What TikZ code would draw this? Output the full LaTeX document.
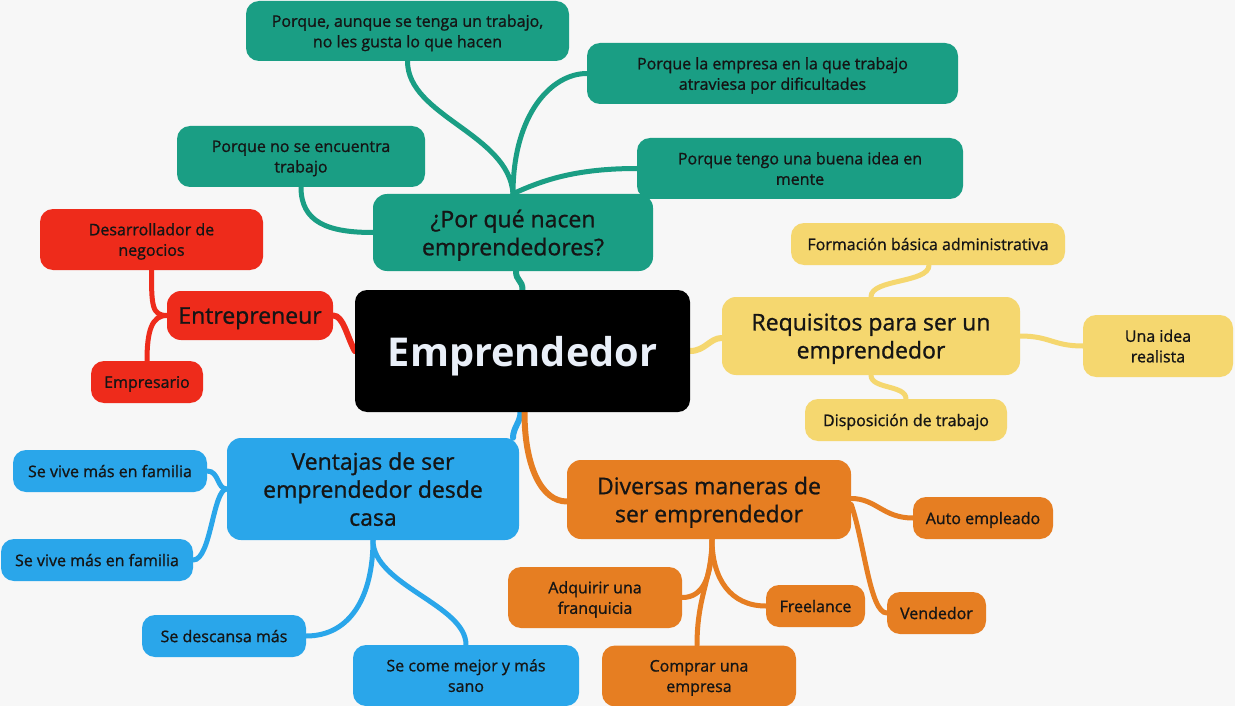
\documentclass[tikz,border=0pt]{standalone}
\usepackage{fontspec}
\setmainfont{Open Sans}
\newfontfamily\semi[FakeBold=1]{Open Sans}
\usetikzlibrary{backgrounds}
\definecolor{cfond}{HTML}{F7F7F7}
\definecolor{cvert}{HTML}{1A9E84}
\definecolor{crouge}{HTML}{EE2B1B}
\definecolor{cjaune}{HTML}{F5D76F}
\definecolor{cbleu}{HTML}{2AA6EA}
\definecolor{corange}{HTML}{E67E22}
\definecolor{ctexte}{HTML}{151515}
\definecolor{cclair}{HTML}{E9EFF8}
\tikzset{
  boite/.style={rounded corners=13pt, align=center, inner sep=0pt, text depth=0pt, text=ctexte},
  feuille/.style={boite, font=\semi\fontsize{16}{20.5}\selectfont},
  branche/.style={boite, rounded corners=14pt, font=\semi\fontsize{23}{28}\selectfont},
  lien/.style={line width=5pt, line cap=round},
  gros lien/.style={line width=6pt, line cap=round}
}

\begin{document}
\begin{tikzpicture}[x=1pt,y=-1pt]
            \useasboundingbox (0,0) rectangle (1235,706);
            \node[fill=black, rounded corners=12pt, minimum width=335pt, minimum height=122pt, text depth=0pt, text=cclair, font=\fontsize{39.7}{44}\selectfont\bfseries] (emp) at (522.5,351) {Emprendedor};

            \node[branche, fill=cvert, minimum width=280pt, minimum height=77pt] (pourquoi) at (513,232.5) {¿Por qué nacen\\emprendedores?};
                \node[feuille, fill=cvert, minimum width=323pt, minimum height=60pt] (pq1) at (407.5,31) {Porque, aunque se tenga un trabajo,\\no les gusta lo que hacen};
                \node[feuille, fill=cvert, minimum width=371pt, minimum height=61pt] (pq2) at (772.5,73.5) {Porque la empresa en la que trabajo\\atraviesa por dificultades};
                \node[feuille, fill=cvert, minimum width=326pt, minimum height=61pt] (pq3) at (800,168.5) {Porque tengo una buena idea en\\mente};
                \node[feuille, fill=cvert, minimum width=248pt, minimum height=61pt] (pq4) at (301,156.5) {Porque no se encuentra\\trabajo};

            \node[branche, fill=crouge, minimum width=166pt, minimum height=49pt] (entre) at (250,315.5) {Entrepreneur};
                \node[feuille, fill=crouge, minimum width=223pt, minimum height=61pt] (desa) at (151.5,239.5) {Desarrollador de\\negocios};
                \node[feuille, fill=crouge, minimum width=112pt, minimum height=42pt] (empr) at (147,382) {Empresario};

            \node[branche, fill=cjaune, minimum width=298pt, minimum height=78pt] (req) at (871,336) {Requisitos para ser un\\emprendedor};
                \node[feuille, fill=cjaune, minimum width=274pt, minimum height=42pt] (form) at (928,244) {Formación básica administrativa};
                \node[feuille, fill=cjaune, minimum width=150pt, minimum height=62pt] (idea) at (1158,346) {Una idea\\realista};
                \node[feuille, fill=cjaune, minimum width=202pt, minimum height=42pt] (disp) at (906,420) {Disposición de trabajo};

            \node[branche, fill=cbleu, minimum width=292pt, minimum height=102pt] (vent) at (373,489) {Ventajas de ser\\emprendedor desde\\casa};
                \node[feuille, fill=cbleu, minimum width=194pt, minimum height=42pt] (fam1) at (110,471) {Se vive más en familia};
                \node[feuille, fill=cbleu, minimum width=192pt, minimum height=42pt] (fam2) at (97,560) {Se vive más en familia};
                \node[feuille, fill=cbleu, minimum width=164pt, minimum height=42pt] (desc) at (224,636) {Se descansa más};
                \node[feuille, fill=cbleu, minimum width=226pt, minimum height=61pt] (come) at (466,675.5) {Se come mejor y más\\sano};

            \node[branche, fill=corange, minimum width=284pt, minimum height=79pt] (div) at (709,499.5) {Diversas maneras de\\ser emprendedor};
                \node[feuille, fill=corange, minimum width=140pt, minimum height=42pt] (auto) at (983,518) {Auto empleado};
                \node[feuille, fill=corange, minimum width=99pt, minimum height=42pt] (vend) at (936.5,613) {Vendedor};
                \node[feuille, fill=corange, minimum width=99pt, minimum height=42pt] (free) at (815.5,606) {Freelance};
                \node[feuille, fill=corange, minimum width=174pt, minimum height=61pt] (adq) at (595,597.5) {Adquirir una\\franquicia};
                \node[feuille, fill=corange, minimum width=194pt, minimum height=61pt] (comp) at (699,676) {Comprar una\\empresa};

            \begin{pgfonlayer}{background}
            \fill[cfond] (0,0) rectangle (1235,706);
            \draw[gros lien, cvert] (emp.north) .. controls +(0,-10) and +(0,10) .. ([xshift=3pt]pourquoi.south);
                \draw[lien, cvert] (pq1.south) .. controls +(0,55) and +(-4,-60) .. (pourquoi.north);
                \draw[lien, cvert] (pq2.west) .. controls +(-35,0) and +(0,-80) .. (pourquoi.north);
                \draw[lien, cvert] (pq3.west) .. controls +(-60,0) and +(30,-14) .. (pourquoi.north);
                \draw[lien, cvert] (pq4.south) .. controls +(0,35) and +(-45,0) .. (pourquoi.west);
            \draw[gros lien, crouge] (entre.east) .. controls +(10,0) and +(-8,-15) .. (emp.west);
                \draw[lien, crouge] (desa.south) .. controls +(0,35) and +(-15,0) .. (entre.west);
                \draw[lien, crouge] (empr.north) .. controls +(0,-30) and +(-15,0) .. (entre.west);
            \draw[gros lien, cjaune] (emp.east) .. controls +(15,0) and +(-12,0) .. ([yshift=-2pt]req.west);
                \draw[lien, cjaune] ([xshift=1pt]form.south) .. controls +(0,18) and +(0,-18) .. (req.north);
                \draw[lien, cjaune] (idea.west) .. controls +(-30,0) and +(30,0) .. (req.east);
                \draw[lien, cjaune] (disp.north) .. controls +(0,-14) and +(0,14) .. (req.south);
            \draw[gros lien, cbleu] ([xshift=-2pt]emp.south) .. controls +(0,10) and +(0,-10) .. ([xshift=140pt]vent.north);
                \draw[lien, cbleu] (fam1.east) .. controls +(12,0) and +(-10,0) .. (vent.west);
                \draw[lien, cbleu] (fam2.east) .. controls +(18,0) and +(-14,0) .. (vent.west);
                \draw[lien, cbleu] (desc.east) .. controls +(45,0) and +(0,55) .. (vent.south);
                \draw[lien, cbleu] (come.north) .. controls +(0,-40) and +(0,45) .. (vent.south);
            \draw[gros lien, corange] ([xshift=2pt]emp.south) .. controls +(0,55) and +(-25,0) .. ([yshift=-2pt]div.west);
                \draw[lien, corange] (auto.west) .. controls +(-30,0) and +(25,0) .. ([yshift=1pt]div.east);
                \draw[lien, corange] (vend.west) .. controls +(-17,0) and +(13,37) .. ([yshift=-5pt]div.east);
                \draw[lien, corange] (free.west) .. controls +(-35,0) and +(0,40) .. ([xshift=3pt]div.south);
                \draw[lien, corange] (adq.east) .. controls +(20,0) and +(0,40) .. ([xshift=3pt]div.south);
                \draw[lien, corange] ([xshift=-2pt]comp.north) .. controls +(0,-50) and +(0,40) .. ([xshift=3pt]div.south);
            \end{pgfonlayer}
        \end{tikzpicture}
\end{document}
